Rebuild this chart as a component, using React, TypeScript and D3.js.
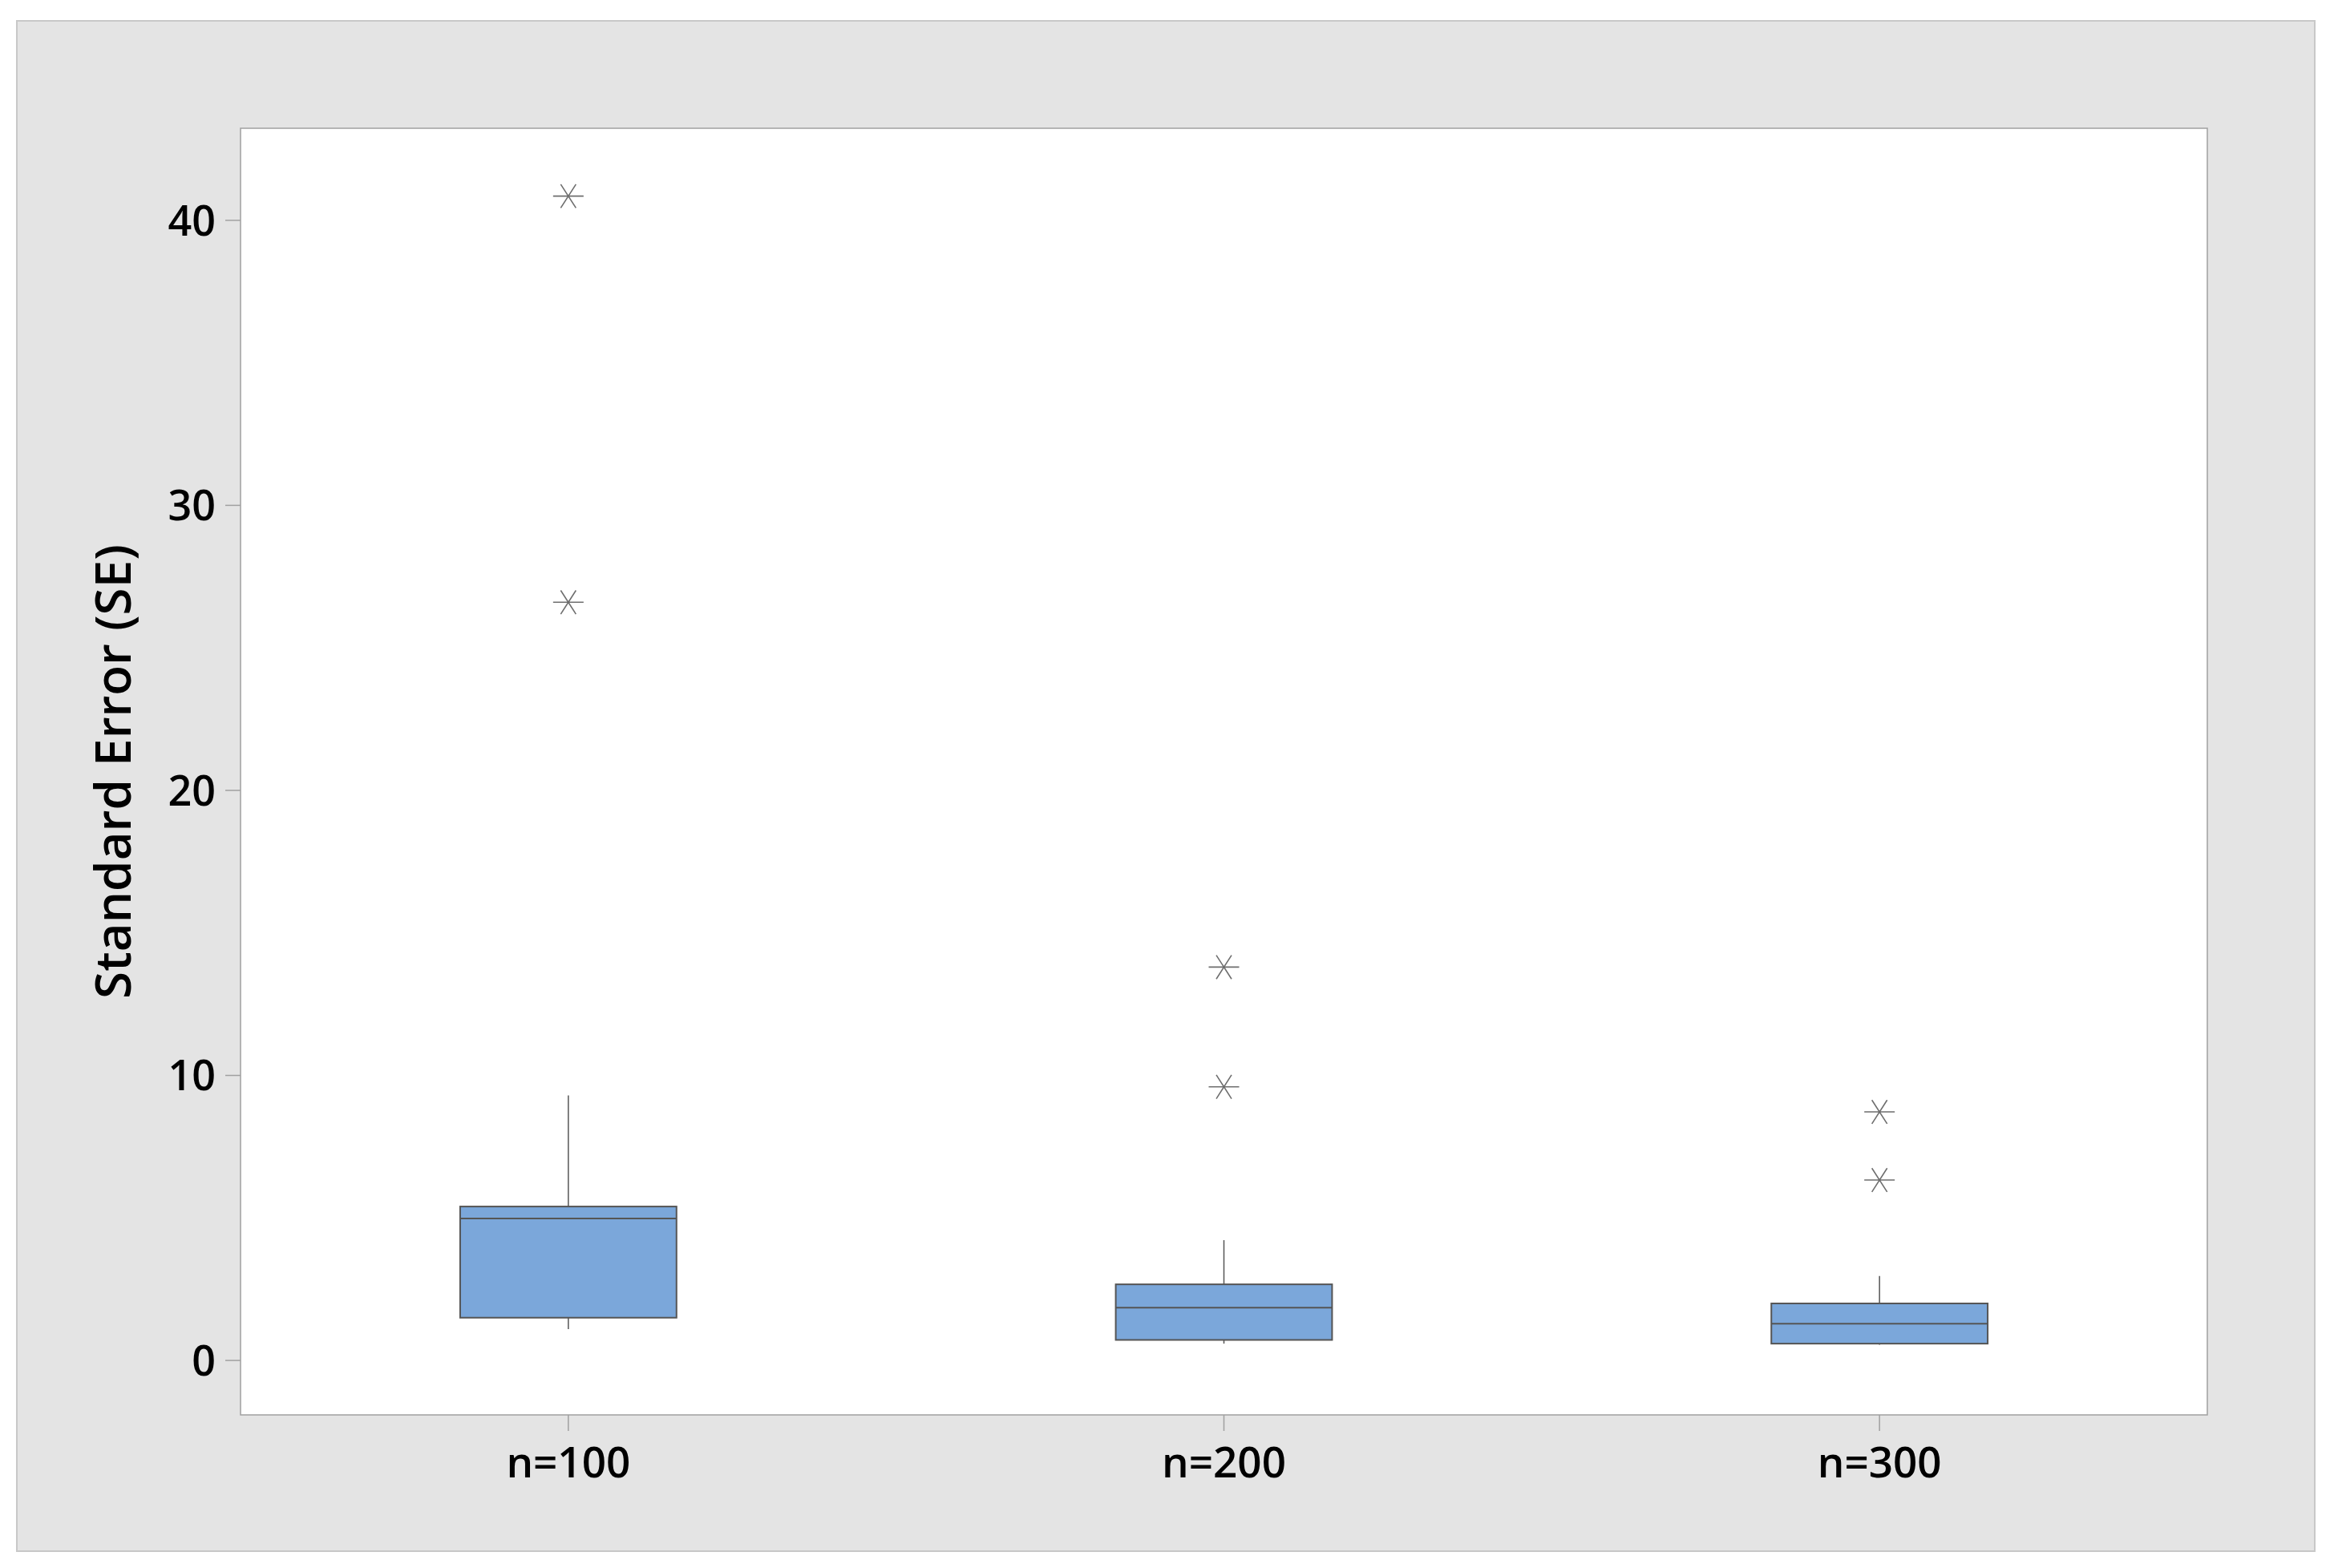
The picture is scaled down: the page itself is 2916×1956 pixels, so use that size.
import React from 'react';
import * as d3 from 'd3';

// box plot of standard error by sample size
const categories = ['n=100', 'n=200', 'n=300'];
const whiskerLow = [1.1, 0.59, 0.55];
const q1 = [1.5, 0.72, 0.59];
const median = [4.98, 1.85, 1.29];
const q3 = [5.4, 2.67, 2.0];
const whiskerHigh = [9.3, 4.22, 2.96];
const outliers = [[40.85, 26.6], [13.8, 9.6], [8.72, 6.33]];
const yTicks = [0, 10, 20, 30, 40];

const W = 2916, H = 1956;
const plot = {left: 300, top: 160, right: 2753, bottom: 1765};
const FONT = '"Open Sans", "Noto Sans", sans-serif';

export default function App() {
  const x = d3.scalePoint().domain(categories).range([plot.left, plot.right]).padding(0.5);
  const y = d3.scaleLinear().domain([-1.91, 43.23]).range([plot.bottom, plot.top]);
  const boxW = x.step() * 0.33;
  const r = 19;
  const star = (cx, cy) => {
    const dx = r * Math.cos(Math.PI / 3), dy = r * Math.sin(Math.PI / 3) * 0.9;
    return `M${cx - r},${cy}L${cx + r},${cy}M${cx - dx},${cy - dy}L${cx + dx},${cy + dy}M${cx - dx},${cy + dy}L${cx + dx},${cy - dy}`;
  };

  return (
    <svg width={W} height={H} style={{position: 'absolute', left: 0, top: 0, display: 'block'}}>
      <rect x={0} y={0} width={W} height={H} fill="#fff" />
      <rect x={21} y={26} width={2866} height={1909} fill="#e4e4e4" stroke="#c8c8c8" strokeWidth={2} />
      <rect x={plot.left} y={plot.top} width={plot.right - plot.left} height={plot.bottom - plot.top} fill="#fff" stroke="#a0a0a0" strokeWidth={1.5} />

      {yTicks.map(t => (
        <g key={t}>
          <line x1={281} x2={plot.left} y1={y(t)} y2={y(t)} stroke="#a0a0a0" strokeWidth={1.5} />
          <text x={269} y={y(t)} dy="0.36em" textAnchor="end" fontFamily={FONT} fontWeight={600} fontSize={52} fill="#000">{t}</text>
        </g>
      ))}

      {categories.map((c, i) => {
        const cx = x(c);
        return (
          <g key={c}>
            <line x1={cx} x2={cx} y1={plot.bottom} y2={plot.bottom + 20} stroke="#a0a0a0" strokeWidth={1.5} />
            <text x={cx} y={1843} textAnchor="middle" fontFamily={FONT} fontWeight={600} fontSize={53} fill="#000">{c}</text>
            <line x1={cx} x2={cx} y1={y(whiskerHigh[i])} y2={y(q3[i])} stroke="#555" strokeWidth={1.5} />
            <line x1={cx} x2={cx} y1={y(q1[i])} y2={y(whiskerLow[i])} stroke="#555" strokeWidth={1.5} />
            <rect x={cx - boxW / 2} y={y(q3[i])} width={boxW} height={y(q1[i]) - y(q3[i])} fill="#7ba7da" stroke="#555" strokeWidth={2} />
            <line x1={cx - boxW / 2} x2={cx + boxW / 2} y1={y(median[i])} y2={y(median[i])} stroke="#555" strokeWidth={2} />
            {outliers[i].map((v, j) => (
              <path key={j} d={star(cx, y(v))} stroke="#6e6e6e" strokeWidth={1.6} fill="none" />
            ))}
          </g>
        );
      })}

      <text transform={`translate(163,${(plot.top + plot.bottom) / 2}) rotate(-90)`} textAnchor="middle" fontFamily={FONT} fontWeight={600} fontSize={62} fill="#000">Standard Error (SE)</text>
    </svg>
  );
}
